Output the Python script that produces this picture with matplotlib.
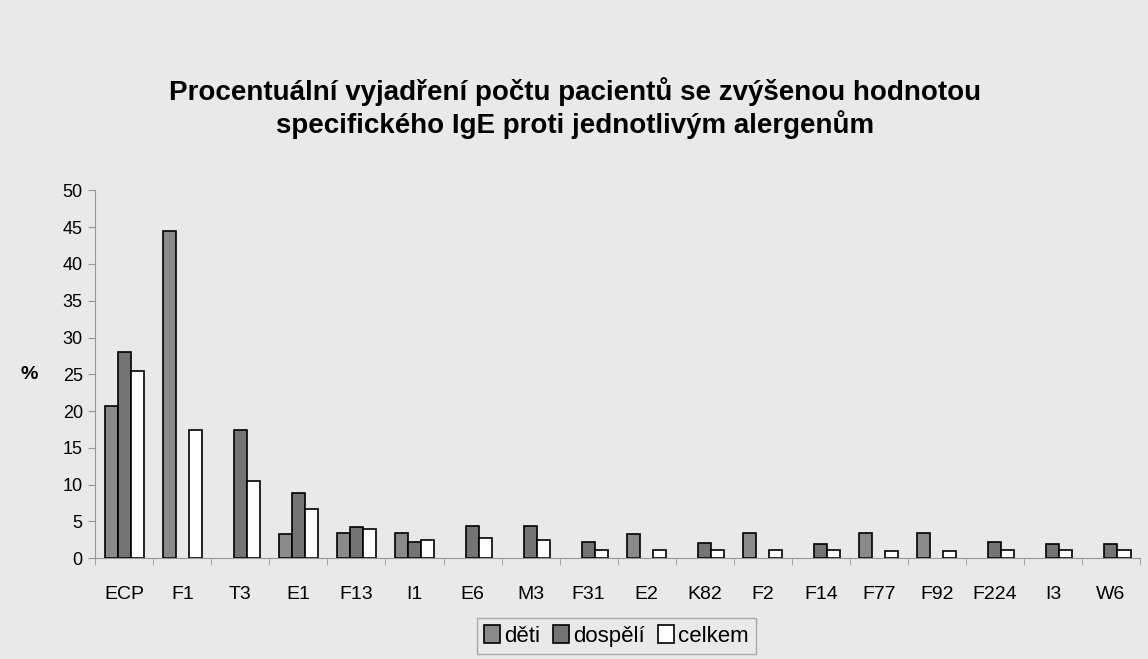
import numpy as np
import matplotlib
matplotlib.use('Agg')
import matplotlib.pyplot as plt

# allergen codes and % of patients with raised specific IgE
categories = ['ECP', 'F1', 'T3', 'E1', 'F13', 'I1', 'E6', 'M3', 'F31', 'E2',
              'K82', 'F2', 'F14', 'F77', 'F92', 'F224', 'I3', 'W6']
deti = [20.7, 44.5, 0, 3.3, 3.4, 3.4, 0, 0, 0, 3.3, 0, 3.4, 0, 3.4, 3.4, 0, 0, 0]
dospeli = [28.1, 0, 17.4, 8.8, 4.3, 2.2, 4.4, 4.4, 2.2, 0, 2.0, 0, 1.9, 0, 0, 2.2, 1.9, 1.9]
celkem = [25.4, 17.4, 10.5, 6.7, 4.0, 2.5, 2.7, 2.5, 1.1, 1.1, 1.1, 1.1, 1.1, 1.0, 1.0, 1.1, 1.1, 1.1]
yticks = [0, 5, 10, 15, 20, 25, 30, 35, 40, 45, 50]

plt.rcParams['font.family'] = ['Liberation Sans', 'DejaVu Sans']
bg = '#e9e9e9'

fig = plt.figure(figsize=(11.48, 6.59), dpi=100, facecolor=bg)
ax = fig.add_axes([0.083, 0.153, 0.91, 0.558], facecolor=bg)

x = np.arange(len(categories))
w = 0.225
series = [(deti, -w, '#8a8a8a', 'děti'),
          (dospeli, 0, '#747474', 'dospělí'),
          (celkem, w, 'white', 'celkem')]
for vals, off, col, lab in series:
    bars = ax.bar(x + off, vals, w, color=col, edgecolor='black', linewidth=1.2, label=lab)
    # empty bars should not leave a line on the axis
    for b, v in zip(bars, vals):
        if v == 0:
            b.set_linewidth(0)

ax.set_xlim(-0.5, len(categories) - 0.5)
ax.set_ylim(0, 50)
ax.set_yticks(yticks)
ax.set_yticklabels([str(v) for v in yticks], fontsize=13)
ax.set_xticks(x)
ax.set_xticklabels(categories, fontsize=14)
ax.set_xticks(np.arange(len(categories) + 1) - 0.5, minor=True)
ax.tick_params(axis='x', which='major', length=0, pad=20)
ax.tick_params(axis='x', which='minor', length=5, color='#999999')
ax.tick_params(axis='y', length=5, color='#999999', pad=4)

for s in ['top', 'right']:
    ax.spines[s].set_visible(False)
for s in ['left', 'bottom']:
    ax.spines[s].set_color('#999999')

ax.text(-0.055, 25, '%', transform=ax.get_yaxis_transform(), fontsize=14,
        fontweight='bold', ha='right', va='center')

fig.text(0.501, 0.836, 'Procentuální vyjadření počtu pacientů se zvýšenou hodnotou\n'
         'specifického IgE proti jednotlivým alergenům',
         ha='center', va='center', fontsize=20, fontweight='bold', linespacing=1.2)

leg = fig.legend(loc='center', bbox_to_anchor=(0.537, 0.035), ncol=3, fontsize=16,
                 frameon=True, fancybox=False, edgecolor='#999999', facecolor=bg,
                 handlelength=0.7, handleheight=0.9, handletextpad=0.2,
                 columnspacing=0.6, borderpad=0.3)

fig.savefig('out.png', dpi=100, facecolor=bg)
